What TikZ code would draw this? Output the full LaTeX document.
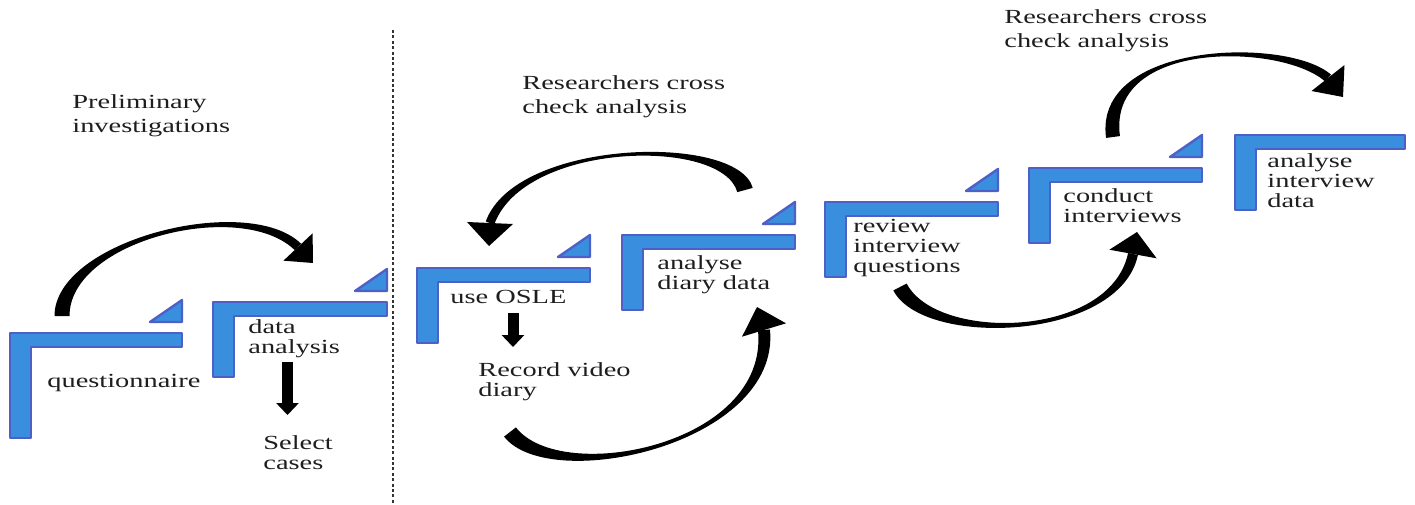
\documentclass[tikz,border=0pt]{standalone}
\usepackage{fontspec}
\setmainfont{Liberation Serif}[FakeStretch=1.42]
\usetikzlibrary{calc,arrows.meta}
\definecolor{stepfill}{RGB}{58,142,222}
\definecolor{stepedge}{RGB}{78,96,200}
\definecolor{inkc}{RGB}{30,30,30}
\tikzset{
  stepbar/.style={fill=stepfill, draw=stepedge, line width=1.2pt, line join=round},
  lbl/.style={inner sep=0pt, anchor=base west, align=left, text=inkc,
              font=\fontsize{10pt}{10pt}\selectfont},
  ttl/.style={lbl, font=\fontsize{10pt}{12pt}\selectfont},
  ink/.style={fill=black},
  downarrow/.style={line width=5.5pt, -{Triangle[width=11pt,length=6pt]}},
  dotline/.style={dash pattern=on 1.5pt off 1.2pt, line width=1pt, draw=black!80},
}
% L-shaped step: name, x, y (bar top), width, vertical length
\newcommand\stepL[5]{%
  \coordinate (#1) at (#2,#3);
  \draw[stepbar] (#1) -- ++(#4,0) -- ++(0,14) -- ++({21-#4},0) -- ++(0,{#5-14}) -- ++(-21,0) -- cycle;
}
% small triangle above the right end of a bar: name, x right, y bar top
\newcommand\stepT[3]{%
  \coordinate (#1) at (#2,#3);
  \draw[stepbar] ($(#1)+(-32,-11)$) -- ($(#1)+(0,-11)$) -- ($(#1)+(0,-33)$) -- cycle;
}
% tapered curved arrow: P0, C1, C2, P3, tip, tail halfwidth, end halfwidth, head halfwidth
\newcommand\bendarrow[8]{%
  \fill[ink] ($(#1)!#6!90:(#2)$) .. controls ($(#2)!#6!-90:(#1)$) and ($(#3)!#7!90:(#4)$) .. ($(#4)!#7!-90:(#3)$)
    -- ($(#4)!#7!90:(#3)$) .. controls ($(#3)!#7!-90:(#4)$) and ($(#2)!#6!90:(#1)$) .. ($(#1)!#6!-90:(#2)$) -- cycle;
  \fill[ink] ($(#4)!#8!90:(#5)$) -- (#5) -- ($(#4)!#8!-90:(#5)$) -- cycle;
}
\begin{document}
\begin{tikzpicture}[x=0.5pt,y=-0.5pt]
\useasboundingbox (0,0) rectangle (1415,504);

% separator
\coordinate (dtop) at (393,30);
\coordinate (dbot) at (393,504);
\draw[dotline] (dtop) -- (dbot);

% steps
\stepL{s1}{10}{333}{172}{105}
\stepT{t1}{182}{333}
\stepL{s2}{213}{302}{174}{75}
\stepT{t2}{387}{302}
\stepL{s3}{417}{268}{173}{75}
\stepT{t3}{590}{268}
\stepL{s4}{622}{235}{173}{75}
\stepT{t4}{795}{235}
\stepL{s5}{825}{202}{173}{75}
\stepT{t5}{998}{202}
\stepL{s6}{1029}{168}{173}{75}
\stepT{t6}{1202}{168}
\stepL{s7}{1235}{135}{170}{75}

% labels (anchored at the baseline of their last line)
\node[ttl] (pi) at (72,132) {Preliminary\\investigations};
\node[ttl] (rc1) at (522,113) {Researchers cross\\check analysis};
\node[ttl] (rc2) at (1004,47) {Researchers cross\\check analysis};
\node[lbl] (q) at (47,387) {questionnaire};
\node[lbl] (da) at (248,353) {data\\analysis};
\node[lbl] (sc) at (263,469) {Select\\cases};
\node[lbl] (os) at (450,303) {use OSLE};
\node[lbl] (rv) at (478,396) {Record video\\diary};
\node[lbl] (ad) at (657,289) {analyse\\diary data};
\node[lbl] (ri) at (853,272) {review\\interview\\questions};
\node[lbl] (ci) at (1063,222) {conduct\\interviews};
\node[lbl] (ai) at (1267,207) {analyse\\interview\\data};

% straight down arrows
\coordinate (d1s) at (287.5,362);
\coordinate (d1e) at (287.5,415);
\draw[downarrow] (d1s) -- (d1e);
\coordinate (d2s) at (513,313);
\coordinate (d2e) at (513,347);
\draw[downarrow] (d2s) -- (d2e);

% curved arrows
\coordinate (a1p0) at (62,316);  \coordinate (a1c1) at (62,240);
\coordinate (a1c2) at (245,195); \coordinate (a1p3) at (298,247);
\coordinate (a1t) at (313,263);
\bendarrow{a1p0}{a1c1}{a1c2}{a1p3}{a1t}{3.75pt}{2.25pt}{10pt}

\coordinate (a2p0) at (745,190); \coordinate (a2c1) at (730,135);
\coordinate (a2c2) at (520,140); \coordinate (a2p3) at (490,223);
\coordinate (a2t) at (489,246);
\bendarrow{a2p0}{a2c1}{a2c2}{a2p3}{a2t}{4pt}{2.25pt}{11.5pt}

\coordinate (a3p0) at (510,432); \coordinate (a3c1) at (555,490);
\coordinate (a3c2) at (775,445); \coordinate (a3p3) at (764,330);
\coordinate (a3t) at (757,307);
\bendarrow{a3p0}{a3c1}{a3c2}{a3p3}{a3t}{3.75pt}{3pt}{11.5pt}

\coordinate (a4p0) at (900,287); \coordinate (a4c1) at (930,345);
\coordinate (a4c2) at (1115,340); \coordinate (a4p3) at (1133,254);
\coordinate (a4t) at (1137,232);
\bendarrow{a4p0}{a4c1}{a4c2}{a4p3}{a4t}{3.75pt}{2.5pt}{12pt}

\coordinate (a5p0) at (1113,137); \coordinate (a5c1) at (1100,40);
\coordinate (a5c2) at (1285,40); \coordinate (a5p3) at (1328,78);
\coordinate (a5t) at (1343,97);
\bendarrow{a5p0}{a5c1}{a5c2}{a5p3}{a5t}{3.5pt}{2.25pt}{10.5pt}
\end{tikzpicture}
\end{document}
